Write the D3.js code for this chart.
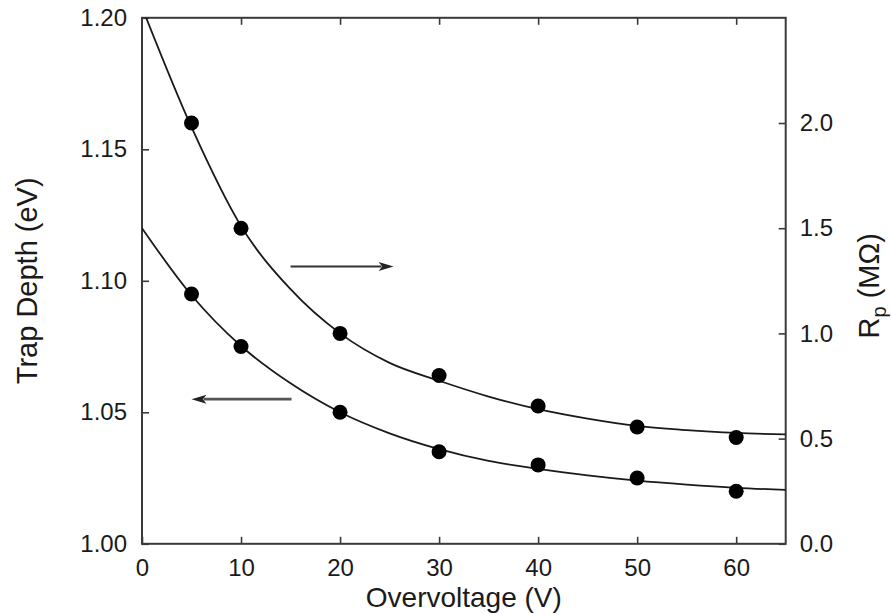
<!DOCTYPE html>
<html>
<head>
<meta charset="utf-8">
<script src="https://cdn.jsdelivr.net/npm/d3@7"></script>
<style>
  html, body { margin: 0; padding: 0; background: #fff; }
  svg { display: block; }
  text { font-family: "Liberation Sans", Arial, Helvetica, sans-serif; fill: #1a1a1a; }
</style>
</head>
<body>
<svg id="chart" width="892" height="614"></svg>
<script>
// Measured points
const voltage    = [5, 10, 20, 30, 40, 50, 60];
const trapDepth  = [1.095, 1.075, 1.050, 1.035, 1.030, 1.025, 1.020];   // eV, left axis
const resistance = [2.00, 1.50, 1.00, 0.80, 0.655, 0.555, 0.505];      // MΩ, right axis

// Fitted curves, sampled along the voltage axis
const fitVoltage    = [0, 5, 10, 15, 20, 25, 30, 35, 40, 45, 50, 55, 60, 65];
const trapDepthFit  = [1.120, 1.0945, 1.0752, 1.061, 1.050, 1.042, 1.036, 1.0315, 1.0285, 1.026, 1.024, 1.0225, 1.0213, 1.0205];
const resistanceFit = [2.55, 1.98, 1.51, 1.21, 1.00, 0.86, 0.775, 0.70, 0.64, 0.595, 0.56, 0.54, 0.527, 0.52];

// Tick values
const xTicks     = [0, 10, 20, 30, 40, 50, 60];
const leftTicks  = [1.00, 1.05, 1.10, 1.15, 1.20];
const rightTicks = [0.0, 0.5, 1.0, 1.5, 2.0];

// Arrows pointing each curve to its axis (data coordinates)
const arrowTail  = [[15.0, 1.318], [15.1, 1.055]];
const arrowHead  = [[25.4, 1.318], [5.0, 1.055]];
const arrowAxis  = ["right", "left"];

const svg = d3.select("#chart");
const L = 142, R = 785.7, T = 17.8, B = 543.8;

const x  = d3.scaleLinear().domain([0, 65]).range([L, R]);
const yL = d3.scaleLinear().domain([1.00, 1.20]).range([B, T]);
const yR = d3.scaleLinear().domain([0, 2.5]).range([B, T]);

const ink = "#1a1a1a";
const frameColor = "#3a3a3a";

// clip region for the curves
svg.append("defs").append("clipPath").attr("id", "plotClip")
  .append("rect").attr("x", L).attr("y", T).attr("width", R - L).attr("height", B - T);

// axes (inward ticks)
function styleAxis(g) {
  g.select(".domain").remove();
  g.selectAll(".tick line").attr("stroke", frameColor).attr("stroke-width", 1.6);
  g.selectAll(".tick text").attr("font-size", 24).attr("fill", ink);
}

svg.append("g").attr("transform", `translate(0,${B})`)
  .call(d3.axisBottom(x).tickValues(xTicks).tickSize(-7).tickPadding(15).tickFormat(d3.format("d")))
  .call(styleAxis)
  .selectAll(".tick text").attr("y", 15).attr("dy", "0.71em");

svg.append("g").attr("transform", `translate(0,${T})`)
  .call(d3.axisTop(x).tickValues(xTicks.slice(1)).tickSize(-7).tickFormat(""))
  .call(styleAxis);

svg.append("g").attr("transform", `translate(${L},0)`)
  .call(d3.axisLeft(yL).tickValues(leftTicks).tickSize(-7).tickPadding(15).tickFormat(d3.format(".2f")))
  .call(styleAxis);

svg.append("g").attr("transform", `translate(${R},0)`)
  .call(d3.axisRight(yR).tickValues(rightTicks).tickSize(-7).tickPadding(14).tickFormat(d3.format(".1f")))
  .call(styleAxis);

// frame
svg.append("rect")
  .attr("x", L).attr("y", T).attr("width", R - L).attr("height", B - T)
  .attr("fill", "none").attr("stroke", frameColor).attr("stroke-width", 2);

// fitted curves
const plot = svg.append("g").attr("clip-path", "url(#plotClip)");
const lineL = d3.line().x((d, i) => x(fitVoltage[i])).y(d => yL(d)).curve(d3.curveMonotoneX);
const lineR = d3.line().x((d, i) => x(fitVoltage[i])).y(d => yR(d)).curve(d3.curveMonotoneX);

plot.append("path").datum(trapDepthFit).attr("d", lineL)
  .attr("fill", "none").attr("stroke", ink).attr("stroke-width", 1.8);
plot.append("path").datum(resistanceFit).attr("d", lineR)
  .attr("fill", "none").attr("stroke", ink).attr("stroke-width", 1.8);

// measured points
svg.append("g").selectAll("circle.td").data(trapDepth).join("circle")
  .attr("class", "td").attr("cx", (d, i) => x(voltage[i])).attr("cy", d => yL(d))
  .attr("r", 7.5).attr("fill", "#000");
svg.append("g").selectAll("circle.rp").data(resistance).join("circle")
  .attr("class", "rp").attr("cx", (d, i) => x(voltage[i])).attr("cy", d => yR(d))
  .attr("r", 7.5).attr("fill", "#000");

// arrows
arrowTail.forEach((tail, i) => {
  const ys = arrowAxis[i] === "right" ? yR : yL;
  const x0 = x(tail[0]), y0 = ys(tail[1]);
  const x1 = x(arrowHead[i][0]), y1 = ys(arrowHead[i][1]);
  const dir = Math.sign(x1 - x0);
  const headLen = 15, headHalf = 4.5;
  svg.append("line")
    .attr("x1", x0).attr("y1", y0).attr("x2", x1 - dir * headLen * 0.8).attr("y2", y1)
    .attr("stroke", i === 0 ? "#333" : "#555").attr("stroke-width", i === 0 ? 1.8 : 2.6);
  svg.append("path")
    .attr("d", `M${x1},${y1} L${x1 - dir * headLen},${y1 - headHalf} L${x1 - dir * headLen * 0.75},${y1} L${x1 - dir * headLen},${y1 + headHalf} Z`)
    .attr("fill", "#222");
});

// axis titles
svg.append("text")
  .attr("x", (L + R) / 2).attr("y", 607)
  .attr("text-anchor", "middle").attr("font-size", 28)
  .text("Overvoltage (V)");

svg.append("text")
  .attr("transform", `translate(37,${(T + B) / 2}) rotate(-90)`)
  .attr("text-anchor", "middle").attr("font-size", 29)
  .text("Trap Depth (eV)");

const rt = svg.append("text")
  .attr("transform", `translate(879,${(T + B) / 2 + 5}) rotate(-90)`)
  .attr("text-anchor", "middle").attr("font-size", 29);
rt.append("tspan").text("R");
rt.append("tspan").attr("font-size", 20).attr("dy", 7).text("p");
rt.append("tspan").attr("dy", -7).text(" (MΩ)");
</script>
</body>
</html>
